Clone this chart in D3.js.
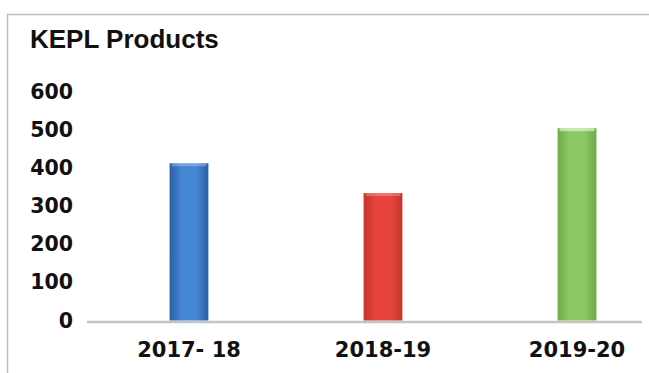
<!DOCTYPE html>
<html>
<head>
<meta charset="utf-8">
<script src="https://cdn.jsdelivr.net/npm/d3@7"></script>
<style>
  body { margin: 0; background: #fff; }
  svg { display: block; }
</style>
</head>
<body>
<div id="plotSect"></div>
<script>
// chart data //
let years = ["2017- 18", "2018-19", "2019-20"];
let products = [412, 334, 504];
let yTicks = [0, 100, 200, 300, 400, 500, 600];
let barColors = [
    {edge: "#2b5f9f", mid: "#4386d2"},
    {edge: "#c3342b", mid: "#e6453b"},
    {edge: "#6dab47", mid: "#8bc963"}
];

let SVGwidth = 649,
SVGheight = 373;

let svg = d3.select("#plotSect").append("svg")
    .attr("width", SVGwidth)
    .attr("height", SVGheight);

// frame
svg.append("rect")
    .attr("x", 7.5)
    .attr("y", 14.5)
    .attr("width", 660)
    .attr("height", 380)
    .style("fill", "#fff")
    .style("stroke", "#bdbdbd")
    .style("stroke-width", 1.5);

let defs = svg.append("defs");
barColors.forEach(function(c, i) {
    let g = defs.append("linearGradient")
        .attr("id", "bar" + i)
        .attr("x1", "0%").attr("x2", "100%")
        .attr("y1", "0%").attr("y2", "0%");
    g.append("stop").attr("offset", "0%").attr("stop-color", c.edge);
    g.append("stop").attr("offset", "30%").attr("stop-color", c.mid);
    g.append("stop").attr("offset", "70%").attr("stop-color", c.mid);
    g.append("stop").attr("offset", "100%").attr("stop-color", c.edge);
});

let xScale = d3.scaleBand()
    .domain(years)
    .range([92, 674])
    .paddingInner(0.8)
    .paddingOuter(0.4);

let yScale = d3.scaleLinear()
    .domain([0, 600])
    .range([320.5, 91.5]);

svg.append("text")
    .attr("x", 30)
    .attr("y", 48)
    .style("font-family", "'Liberation Sans', Arial, sans-serif")
    .style("font-weight", "bold")
    .style("font-size", "26px")
    .style("fill", "#111")
    .text("KEPL Products");

let yAxis = d3.axisLeft(yScale)
    .tickValues(yTicks)
    .tickSize(0)
    .tickPadding(15);

let yG = svg.append("g")
    .attr("transform", "translate(88,0)")
    .call(yAxis);
yG.select(".domain").remove();
yG.selectAll("text")
    .style("font-family", "'DejaVu Sans', sans-serif")
    .style("font-weight", "bold")
    .style("font-size", "20.5px")
    .style("fill", "#111");

// baseline
svg.append("line")
    .attr("x1", 87)
    .attr("x2", 642)
    .attr("y1", yScale(0) + 1.5)
    .attr("y2", yScale(0) + 1.5)
    .style("stroke", "#c4c4c4")
    .style("stroke-width", 2.5);

svg.selectAll(".bar")
    .data(products)
    .enter().append("rect")
    .attr("class", "bar")
    .attr("x", function(d, i) { return xScale(years[i]); })
    .attr("width", xScale.bandwidth())
    .attr("y", function(d) { return yScale(d); })
    .attr("height", function(d) { return yScale(0) - yScale(d); })
    .style("fill", function(d, i) { return "url(#bar" + i + ")"; });

// light cap on top of each bar
svg.selectAll(".cap")
    .data(products)
    .enter().append("rect")
    .attr("class", "cap")
    .attr("x", function(d, i) { return xScale(years[i]) + 2; })
    .attr("width", xScale.bandwidth() - 4)
    .attr("y", function(d) { return yScale(d); })
    .attr("height", 3)
    .style("fill", "#fff")
    .style("opacity", function(d, i) { return i == 2 ? 0.55 : 0.25; });

let xAxis = d3.axisBottom(xScale)
    .tickSize(0)
    .tickPadding(0);

let xG = svg.append("g")
    .attr("transform", "translate(0,342)")
    .call(xAxis);
xG.select(".domain").remove();
xG.selectAll("text")
    .attr("dy", "0.71em")
    .style("font-family", "'DejaVu Sans', sans-serif")
    .style("font-weight", "bold")
    .style("font-size", "21px")
    .style("fill", "#111");
</script>
</body>
</html>
